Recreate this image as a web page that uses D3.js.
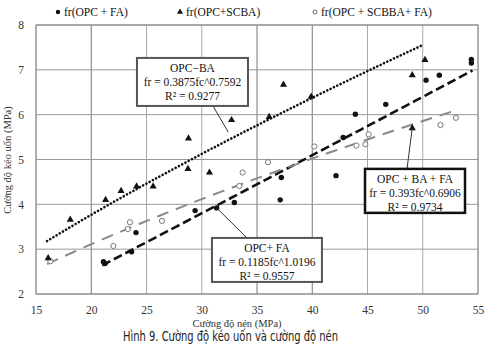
<!DOCTYPE html>
<html><head><meta charset="utf-8">
<script src="https://cdn.jsdelivr.net/npm/d3@7"></script>
<style>
body{margin:0;background:#fff;}
svg{display:block;}
</style></head>
<body><svg id="c" width="488" height="355"></svg>
<script>
// ---- data ----
const xTicks = [15,20,25,30,35,40,45,50,55];
const yTicks = [2,3,4,5,6,7,8];
const seriesNames = ["fr(OPC + FA)","fr(OPC+SCBA)","fr(OPC + SCBBA+ FA)"];
const opcFA = [[21.1,2.72],[21.25,2.68],[23.65,2.94],[24.05,3.37],[29.4,3.86],[31.35,3.92],[32.95,4.04],[37.1,4.10],[37.2,4.60],[42.15,4.64],[42.8,5.49],[43.9,6.01],[46.65,6.23],[50.3,6.77],[51.5,6.88],[54.4,7.15],[54.4,7.23]];
const opcSCBA = [[16.1,2.8],[18.1,3.66],[21.3,4.10],[22.7,4.30],[24.1,4.40],[25.6,4.40],[28.75,4.79],[30.7,4.71],[28.8,5.47],[32.7,5.88],[36.1,5.95],[37.4,6.67],[39.9,6.40],[49.05,5.70],[49.05,6.88],[50.2,7.22]];
const opcSCBBAFA = [[16.3,2.73],[22.0,3.07],[23.3,3.45],[23.5,3.60],[26.4,3.63],[33.4,4.41],[33.7,4.71],[36.0,4.94],[40.2,5.29],[44.0,5.31],[44.8,5.34],[45.1,5.56],[51.6,5.77],[53.0,5.93]];
// trendlines fr = a * fc^b, drawn over [from,to]
const fitNames = ["OPC−BA","OPC+ FA","OPC + BA + FA"];
const fitA = [0.3875, 0.1185, 0.393];
const fitB = [0.7592, 1.0196, 0.6906];
const fitFrom = [16, 21, 16];
const fitTo = [50, 54.5, 53];
const fitEq = ["fr = 0.3875fc^0.7592","fr = 0.1185fc^1.0196","fr = 0.393fc^0.6906"];
const fitR2 = ["R² = 0.9277","R² = 0.9557","R² = 0.9734"];
// label anchors (data coords of box centre) and arrow targets
const boxCenter = [[29.16,6.73],[35.9,2.76],[49.3,4.30]];
const arrowTarget = [[32.4,5.61],[31.35,3.92],[49.05,5.70]];

const SERIF = "'Liberation Serif', 'DejaVu Serif', serif";
const svg = d3.select("#c");
const x = d3.scaleLinear().domain([15,55]).range([36,478]);
const y = d3.scaleLinear().domain([2,8]).range([294,25]);

// grid
const g = svg.append("g");
g.selectAll(".vg").data(xTicks).join("line")
  .attr("x1",d=>x(d)).attr("x2",d=>x(d)).attr("y1",y(2)).attr("y2",y(8))
  .attr("stroke",d=>[20,35,40].includes(d)?"#777":"#aaa").attr("stroke-width",1);
g.selectAll(".hg").data(yTicks).join("line")
  .attr("y1",d=>y(d)).attr("y2",d=>y(d)).attr("x1",x(15)).attr("x2",x(55))
  .attr("stroke","#999").attr("stroke-width",1);
g.append("rect").attr("x",x(15)).attr("y",y(8)).attr("width",x(55)-x(15)).attr("height",y(2)-y(8))
  .attr("fill","none").attr("stroke","#888");

// axes (labels only, via d3 axis)
const xa = svg.append("g").attr("transform",`translate(0,${y(2)})`)
  .call(d3.axisBottom(x).tickValues(xTicks).tickFormat(d3.format("d")).tickSize(0).tickPadding(12));
const ya = svg.append("g").attr("transform",`translate(${x(15)},0)`)
  .call(d3.axisLeft(y).tickValues(yTicks).tickFormat(d3.format("d")).tickSize(0).tickPadding(12));
[xa,ya].forEach(a=>{a.select(".domain").remove();
  a.attr("font-family",SERIF).attr("font-size",11.5);
  a.selectAll("text").attr("fill","#333");});

// trendlines
const styles = [
  {stroke:"#111",w:2.6,dash:"0.1 3.6",cap:"round"},
  {stroke:"#111",w:2.6,dash:"9 4",cap:"butt"},
  {stroke:"#8a8a8a",w:2,dash:"12 8",cap:"butt"}
];
const line = d3.line().x(d=>x(d[0])).y(d=>y(d[1]));
fitA.forEach((a,i)=>{
  const pts = d3.range(0,41).map(k=>{const fc=fitFrom[i]+(fitTo[i]-fitFrom[i])*k/40; return [fc, a*Math.pow(fc,fitB[i])];});
  svg.append("path").attr("d",line(pts)).attr("fill","none")
    .attr("stroke",styles[i].stroke).attr("stroke-width",styles[i].w)
    .attr("stroke-dasharray",styles[i].dash).attr("stroke-linecap",styles[i].cap);
});

// markers
svg.append("g").selectAll("circle").data(opcSCBBAFA).join("circle")
  .attr("cx",d=>x(d[0])).attr("cy",d=>y(d[1])).attr("r",2.6)
  .attr("fill","#fff").attr("stroke","#777").attr("stroke-width",1);
const tri = d3.symbol().type(d3.symbolTriangle).size(22);
svg.append("g").selectAll("path").data(opcSCBA).join("path")
  .attr("d",tri).attr("transform",d=>`translate(${x(d[0])},${y(d[1])})`).attr("fill","#111");
svg.append("g").selectAll("circle").data(opcFA).join("circle")
  .attr("cx",d=>x(d[0])).attr("cy",d=>y(d[1])).attr("r",2.7).attr("fill","#111");

// annotation boxes
const boxW = [111,110,100], boxH = [48,44,44];
const arrowDx = [20.5,-20,-8];
const borders = [{c:"#555",w:2},{c:"#555",w:2},{c:"#111",w:2.5}];
fitNames.forEach((n,i)=>{
  const cx = x(boxCenter[i][0]), cy = y(boxCenter[i][1]);
  const bx = cx-boxW[i]/2, by = cy-boxH[i]/2;
  const tx = x(arrowTarget[i][0]), ty = y(arrowTarget[i][1]);
  const sx = cx+arrowDx[i];
  const sy = i===0 ? by+boxH[i] : by;
  svg.append("line").attr("x1",sx).attr("y1",sy).attr("x2",tx).attr("y2",ty)
    .attr("stroke","#333").attr("stroke-width",1);
  svg.append("rect").attr("x",bx).attr("y",by).attr("width",boxW[i]).attr("height",boxH[i])
    .attr("fill","#fff").attr("stroke",borders[i].c).attr("stroke-width",borders[i].w);
  [n,fitEq[i],fitR2[i]].forEach((t,k)=>{
    svg.append("text").attr("x",cx).attr("y",by+14+k*14).attr("text-anchor","middle")
      .attr("font-family",SERIF).attr("font-size",11.5).attr("fill","#111").text(t);
  });
});

// legend
const legX = [58,180,315];
seriesNames.forEach((n,i)=>{
  const ly = 12;
  if(i===0) svg.append("circle").attr("cx",legX[i]).attr("cy",ly).attr("r",2.2).attr("fill","#111");
  if(i===1) svg.append("path").attr("d",d3.symbol().type(d3.symbolTriangle).size(16)).attr("transform",`translate(${legX[i]},${ly})`).attr("fill","#111");
  if(i===2) svg.append("circle").attr("cx",legX[i]).attr("cy",ly).attr("r",2).attr("fill","#fff").attr("stroke","#666");
  svg.append("text").attr("x",legX[i]+6).attr("y",ly+4).attr("font-family",SERIF).attr("font-size",11.5).attr("fill","#111").text(n);
});

// axis titles
svg.append("text").attr("x",237).attr("y",327).attr("text-anchor","middle").attr("font-family",SERIF).attr("font-size",10.5).attr("fill","#333").text("Cường độ nén (MPa)");
svg.append("text").attr("transform",`translate(11,160) rotate(-90)`).attr("text-anchor","middle").attr("font-family",SERIF).attr("font-size",10.5).attr("fill","#333").text("Cường độ kéo uốn (MPa)");
// caption
svg.append("text").attr("x",230.5).attr("y",341).attr("text-anchor","middle").attr("font-size",13.5)
  .attr("font-family","'DejaVu Sans Condensed', 'Liberation Sans Narrow', sans-serif").attr("fill","#222")
  .attr("textLength",215).attr("lengthAdjust","spacingAndGlyphs")
  .text("Hình 9. Cường độ kéo uốn và cường độ nén");
</script></body></html>
